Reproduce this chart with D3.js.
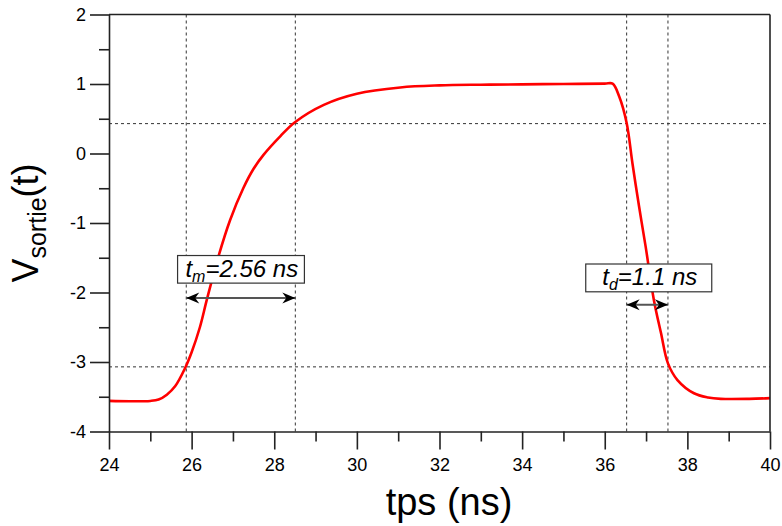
<!DOCTYPE html>
<html><head><meta charset="utf-8">
<script src="https://cdn.jsdelivr.net/npm/d3@7"></script>
<style>body{margin:0;background:#fff}svg{display:block}text{font-family:"Liberation Sans",Arial,sans-serif}</style>
</head><body><svg id="c" width="782" height="526"></svg>
<script>
const times = [24.0,24.5,25.0,25.2,25.4,25.6,25.84,26.0,26.2,26.37,26.65,26.93,27.25,27.5,27.74,28.15,28.5,29.2,30.0,31.05,32,33,34,35,36,36.19,36.35,36.53,36.67,36.83,36.99,37.19,37.36,37.53,37.76,38.16,38.5,38.81,39.5,40];
const vout  = [-3.56,-3.565,-3.56,-3.54,-3.47,-3.35,-3.09,-2.86,-2.5,-2.1,-1.48,-0.96,-0.5,-0.22,-0.02,0.25,0.45,0.70,0.86,0.95,0.98,0.99,0.995,1.0,1.005,1.005,0.82,0.44,-0.14,-0.76,-1.34,-2.11,-2.58,-3.02,-3.26,-3.45,-3.51,-3.53,-3.53,-3.52];
const xTicks = [24,26,28,30,32,34,36,38,40];
const xMinor = [25,27,29,31,33,35,37,39];
const yTicks = [2,1,0,-1,-2,-3,-4];
const yMinor = [1.5,0.5,-0.5,-1.5,-2.5,-3.5];
const vGuides = [25.87,28.51,36.53,37.53];
const hGuides = [0.43,-3.07];
const annotations = [
  {from:25.87,to:28.51,arrowV:-2.08,boxL:25.66,boxR:28.73,boxTop:-1.468,boxBot:-1.865,textT:25.85,textV:-1.77,main:"t",sub:"m",rest:"=2.56 ns"},
  {from:36.53,to:37.53,arrowV:-2.177,boxL:35.54,boxR:38.59,boxTop:-1.59,boxBot:-1.99,textT:35.94,textV:-1.89,main:"t",sub:"d",rest:"=1.1 ns"}
];

const svg = d3.select("#c");
const L=109,R=770,T=14.5,B=431.5;
const x = d3.scaleLinear().domain([24,40]).range([L,R]);
const y = d3.scaleLinear().domain([-4,2]).range([B,T]);
const ink="#222";

// guides
svg.append("g").selectAll("line").data(vGuides).join("line")
  .attr("x1",d=>x(d)).attr("x2",d=>x(d)).attr("y1",T).attr("y2",B)
  .attr("stroke","#333").attr("stroke-width",1).attr("stroke-dasharray","3,3");
svg.append("g").selectAll("line").data(hGuides).join("line")
  .attr("y1",d=>y(d)).attr("y2",d=>y(d)).attr("x1",L).attr("x2",R)
  .attr("stroke","#333").attr("stroke-width",1).attr("stroke-dasharray","3,3");

// curve
const pts = times.map((t,i)=>[t,vout[i]]);
svg.append("path").datum(pts)
  .attr("d",d3.line().x(d=>x(d[0])).y(d=>y(d[1])).curve(d3.curveCatmullRom.alpha(0.5)))
  .attr("fill","none").attr("stroke","#ff0000").attr("stroke-width",2.6);

// frame
svg.append("line").attr("x1",L).attr("x2",R).attr("y1",T).attr("y2",T).attr("stroke",ink).attr("stroke-width",1.6);
svg.append("line").attr("x1",R).attr("x2",R).attr("y1",T).attr("y2",B).attr("stroke",ink).attr("stroke-width",1.6);

function styleAxis(g){
  g.attr("font-size",18);
  g.select(".domain").attr("stroke",ink).attr("stroke-width",1.6);
  g.selectAll(".tick line").attr("stroke",ink).attr("stroke-width",1.6);
  g.selectAll("text").attr("font-size",18).attr("fill","#000");
}
const gx = svg.append("g").attr("transform",`translate(0,${B})`)
  .call(d3.axisBottom(x).tickValues(xTicks).tickSize(18).tickPadding(9).tickSizeOuter(0).tickFormat(d3.format("d")));
styleAxis(gx);
const gxm = svg.append("g").attr("transform",`translate(0,${B})`)
  .call(d3.axisBottom(x).tickValues(xMinor).tickSize(10).tickFormat("").tickSizeOuter(0));
styleAxis(gxm); gxm.select(".domain").remove();
const gy = svg.append("g").attr("transform",`translate(${L},0)`)
  .call(d3.axisLeft(y).tickValues(yTicks).tickSize(19).tickPadding(4).tickSizeOuter(0).tickFormat(d3.format("d")));
styleAxis(gy);
gy.selectAll("text").text(d=>d<0?"-"+Math.abs(d):d);
const gym = svg.append("g").attr("transform",`translate(${L},0)`)
  .call(d3.axisLeft(y).tickValues(yMinor).tickSize(10).tickFormat("").tickSizeOuter(0));
styleAxis(gym); gym.select(".domain").remove();

// titles
svg.append("text").attr("x",449).attr("y",515).attr("text-anchor","middle")
  .attr("font-size",38).text("tps (ns)");
const yt = svg.append("text").attr("transform",`translate(38,${(T+B)/2}) rotate(-90)`)
  .attr("text-anchor","middle").attr("font-size",36);
yt.append("tspan").text("V");
yt.append("tspan").attr("font-size",25).attr("dy",8).text("sortie");
yt.append("tspan").attr("dy",-8).text("(t)");

// arrow markers
const defs = svg.append("defs");
defs.append("marker").attr("id","ah").attr("viewBox","-14 -6 16 12")
  .attr("refX",0).attr("refY",0).attr("markerWidth",16).attr("markerHeight",12)
  .attr("markerUnits","userSpaceOnUse").attr("orient","auto-start-reverse")
  .append("path").attr("d","M0,0 L-13,-5.5 L-9,0 L-13,5.5 Z").attr("fill","#000");

annotations.forEach(a=>{
  svg.append("line").attr("x1",x(a.from)).attr("x2",x(a.to))
    .attr("y1",y(a.arrowV)).attr("y2",y(a.arrowV))
    .attr("stroke","#555").attr("stroke-width",2)
    .attr("marker-start","url(#ah)").attr("marker-end","url(#ah)");
  const g = svg.append("g");
  g.append("rect").attr("x",x(a.boxL)).attr("y",y(a.boxTop))
    .attr("width",x(a.boxR)-x(a.boxL)).attr("height",y(a.boxBot)-y(a.boxTop))
    .attr("fill","#fff").attr("stroke","#333").attr("stroke-width",1.2);
  const tx = g.append("text").attr("font-size",24).attr("font-style","italic")
    .attr("x", x(a.textT)).attr("y",y(a.textV));
  tx.append("tspan").text(a.main);
  tx.append("tspan").attr("font-size",16).attr("dy",5).text(a.sub);
  tx.append("tspan").attr("dy",-5).text(a.rest);
});
</script></body></html>
